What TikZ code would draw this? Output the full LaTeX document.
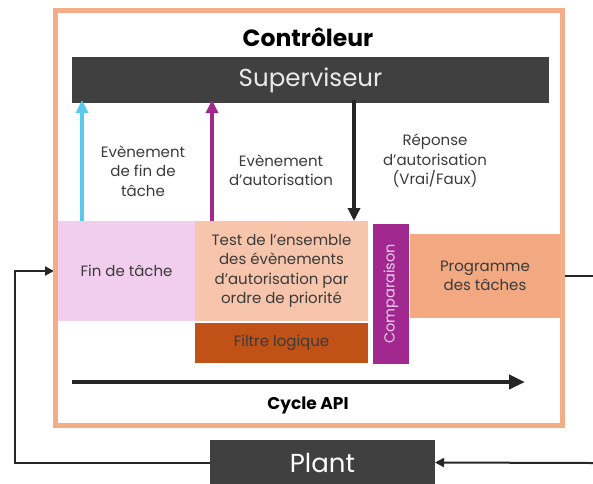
\documentclass[tikz,border=0pt]{standalone}
\usepackage{fontspec}
\setmainfont{Poppins}
\usetikzlibrary{arrows.meta}
\definecolor{frameor}{HTML}{F4AD87}
\definecolor{darkbar}{HTML}{404040}
\definecolor{skyb}{HTML}{5BC8F0}
\definecolor{purp}{HTML}{A0288F}
\definecolor{pinkl}{HTML}{F2CEEE}
\definecolor{peach}{HTML}{F7C5AB}
\definecolor{burnt}{HTML}{C05117}
\definecolor{progor}{HTML}{F2A880}
\definecolor{txt}{HTML}{3A3A3A}
\definecolor{arr}{HTML}{262626}
\begin{document}
\begin{tikzpicture}[x=1pt,y=-1pt,
  blk/.style={inner sep=0pt, outer sep=0pt, anchor=north west, align=center, text=txt, font=\fontsize{15}{19.5}\selectfont},
  lbl/.style={align=center, text=txt, font=\fontsize{15}{19.5}\selectfont, inner sep=0pt},
  bigarrow/.style={line width=4pt, -{Triangle[width=12pt,length=13pt]}},
  fb/.style={line width=2pt, draw=arr},
  fbarrow/.style={fb, -{Triangle[width=9pt,length=9pt]}}]
\useasboundingbox (0,0) rectangle (593,483);

% feedback lines (under the frame)
\node[blk, fill=darkbar, minimum width=225pt, minimum height=45pt, text=white, font=\fontsize{26}{30}\selectfont] (plant) at (210,440) {Plant};
\node[blk, fill=pinkl, minimum width=137pt, minimum height=100pt] (fin) at (58,221) {Fin de tâche};
\node[blk, fill=progor, minimum width=150pt, minimum height=84pt] (prog) at (410,234) {Programme\\des tâches};
\coordinate (re1) at (593,278);
\coordinate (re2) at (593,463);
\draw[fb] (prog.east) -- (prog.east -| re1);
\draw[fbarrow] (re2) -- (plant.east);
\draw[fbarrow] (plant.west) -| ([xshift=-43pt]fin.west) -- ([xshift=-4pt]fin.west);

% controller frame
\draw[frameor, line width=5pt] (55.5,10.5) rectangle (562.5,425.5);
\node[font=\bfseries\fontsize{23.5}{28}\selectfont, text=black, inner sep=0pt] (ctrl) at (308,37) {Contrôleur};

\node[blk, fill=darkbar, minimum width=477pt, minimum height=46pt, text=white!92!black, font=\fontsize{24.5}{28}\selectfont] (sup) at (72,57) {Superviseur};

\node[blk, fill=peach, minimum width=173pt, minimum height=100pt] (test) at (195,221) {Test de l’ensemble\\des évènements\\d’autorisation par\\ordre de priorité};
\node[blk, fill=burnt, minimum width=173pt, minimum height=40pt] (filt) at (195,323) {Filtre logique};
\node[blk, fill=purp, minimum width=36pt, minimum height=140pt] (comp) at (373,224) {};
\node[rotate=90, text=pinkl, font=\fontsize{14.5}{17}\selectfont, inner sep=0pt] (compt) at (comp.center) {Comparaison};

% vertical arrows
\coordinate (b1) at (82,0);
\coordinate (b2) at (212,0);
\coordinate (b3) at (354,0);
\draw[bigarrow, skyb] (b1 |- fin.north) -- ([yshift=3pt]b1 |- sup.south);
\draw[bigarrow, purp] (b2 |- test.north) -- ([yshift=3pt]b2 |- sup.south);
\draw[bigarrow, arr] ([yshift=3pt]b3 |- sup.south) -- (b3 |- test.north);

\node[lbl] (l1) at (143,171) {Evènement\\de fin de\\tâche};
\node[lbl] (l2) at (281,170) {Evènement\\d’autorisation};
\node[lbl] (l3) at (435,161) {Réponse\\d’autorisation\\(Vrai/Faux)};

% cycle arrow
\coordinate (c1) at (72,382);
\coordinate (c2) at (525,382);
\draw[bigarrow, arr, -{Triangle[width=14pt,length=16pt]}] (c1) -- (c2);
\node[font=\bfseries\fontsize{17}{20}\selectfont, text=black, inner sep=0pt] (cyc) at (308,405) {Cycle API};
\end{tikzpicture}
\end{document}
